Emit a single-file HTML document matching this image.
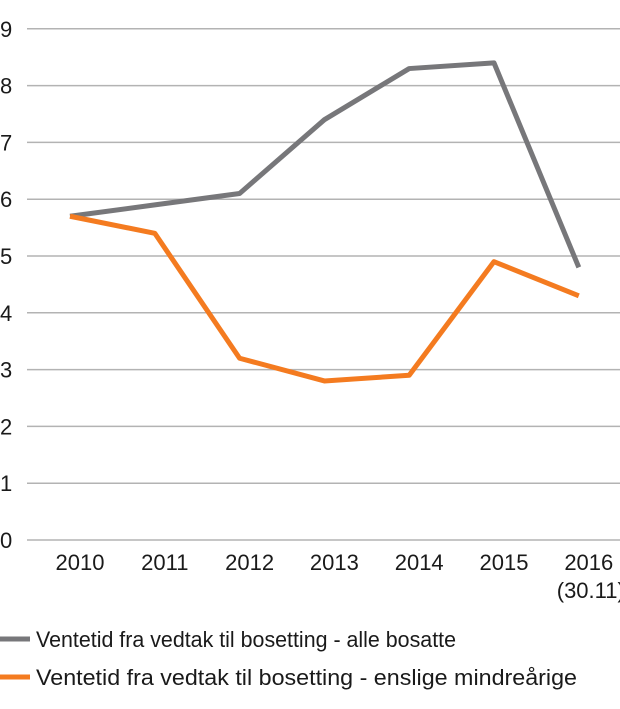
<!DOCTYPE html>
<html><head><meta charset="utf-8"><style>
body{margin:0;background:#fff;width:620px;height:704px;overflow:hidden;font-family:"Liberation Sans",Arial,sans-serif}
text{font-family:"Liberation Sans",Arial,sans-serif;fill:#1a1a1a}
</style></head><body>
<svg id="chart" width="620" height="704" xmlns="http://www.w3.org/2000/svg"></svg>
<script>
const categories=["2010","2011","2012","2013","2014","2015","2016"];
const allSettled=[5.7,5.9,6.1,7.4,8.3,8.4,4.8];
const minors=[5.7,5.4,3.2,2.8,2.9,4.9,4.3];
const yTicks=[0,1,2,3,4,5,6,7,8,9];
const NS="http://www.w3.org/2000/svg";
const svg=document.getElementById('chart');
const y=v=>540-v*56.8;
const xp=i=>70+i*84.8;
const xl=i=>80+i*84.8;
function mk(t,a){const e=document.createElementNS(NS,t);for(const k in a)e.setAttribute(k,a[k]);svg.appendChild(e);return e;}
yTicks.forEach(v=>{
 const l=mk('line',{x1:27,x2:620,y1:y(v),y2:y(v),stroke:'#b3b3b3','stroke-width':1.5});
 
 
 const t=mk('text',{x:0,y:y(v)+8,'font-size':22});
 t.textContent=v;
 
 
});
categories.forEach((c,i)=>{
 const t=mk('text',{x:xl(i),y:570,'font-size':22,'text-anchor':'middle'});
 t.textContent=c;
 
 
});
const t2=mk('text',{x:xl(6)+2,y:598,'font-size':22,'text-anchor':'middle'});
t2.textContent="(30.11)";


function series(vals,color,name){
 const p=mk('polyline',{points:vals.map((v,i)=>xp(i)+','+y(v)).join(' '),fill:'none',stroke:color,'stroke-width':5,'stroke-linejoin':'round'});
 
 
}
series(allSettled,'#77777a','series-all-settled');
series(minors,'#f47b20','series-unaccompanied-minors');
const leg=[["Ventetid fra vedtak til bosetting - alle bosatte",'#77777a',639],["Ventetid fra vedtak til bosetting - enslige mindreårige",'#f47b20',677]];
leg.forEach((L,i)=>{
 const l=mk('line',{x1:0,x2:30,y1:L[2],y2:L[2],stroke:L[1],'stroke-width':5});
 
 
 const t=mk('text',{x:36,y:L[2]+8,'font-size':22.5,textLength:i?541:420,lengthAdjust:'spacingAndGlyphs'});
 t.textContent=L[0];
 
 
});
</script>
</body></html>
